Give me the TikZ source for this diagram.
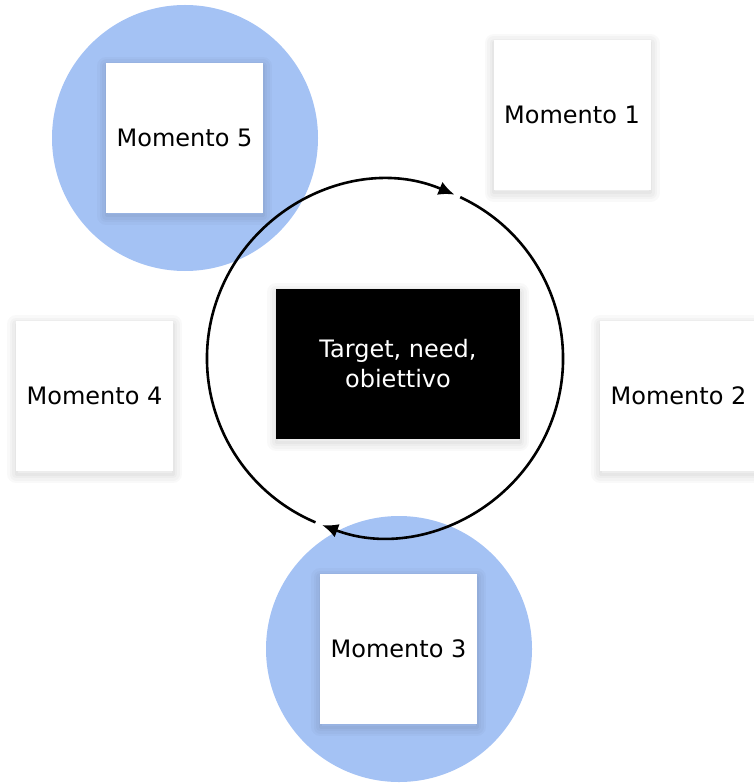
\documentclass[tikz,border=0pt]{standalone}
\usepackage{fontspec}
\setmainfont{DejaVu Sans}
\usetikzlibrary{arrows.meta}
\definecolor{blueblob}{HTML}{A4C2F4}
\begin{document}
\begin{tikzpicture}[x=1pt,y=1pt,
  shadowring/.style={preaction={draw=black, draw opacity=#1, fill opacity=0, line join=round, transform canvas={yshift=-3pt}}},
  softshadow/.style={
    preaction={draw=black, draw opacity=0.022, line width=18pt, line join=round, transform canvas={yshift=-3pt}},
    preaction={draw=black, draw opacity=0.022, line width=13pt, line join=round, transform canvas={yshift=-3pt}},
    preaction={draw=black, draw opacity=0.025, line width=8pt, line join=round, transform canvas={yshift=-3pt}},
    preaction={draw=black, draw opacity=0.03, line width=3pt, line join=round, transform canvas={yshift=-3pt}}},
  card/.style={fill=white, minimum width=157pt, minimum height=150pt, inner sep=0pt,
    softshadow, font=\fontsize{24}{30}\selectfont, align=center},
  blob/.style={circle, fill=blueblob, minimum size=266pt, inner sep=0pt},
  cycleline/.style={line width=2.6pt, -{Latex[length=16pt,width=14pt]}}]
\useasboundingbox (0,0) rectangle (753,-783);
\node[blob] (b5) at (185,-138) {};
\node[blob] (b3) at (399,-649) {};
\node[card] (m5) at (184.5,-138) {Momento 5};
\node[card] (m1) at (572,-115) {Momento 1};
\node[card] (m4) at (94.5,-396) {Momento 4};
\node[card] (m2) at (678.5,-396) {Momento 2};
\node[card] (m3) at (398.5,-649) {Momento 3};
\node[card, fill=black, text=white, minimum width=244pt] (t) at (398,-364) {Target, need,\\obiettivo};
\coordinate (c) at (385,-358.5);
\draw[cycleline] ([shift={(247:178)}]c) arc[start angle=247,end angle=67,radius=178];
\draw[cycleline] ([shift={(65:178)}]c) arc[start angle=65,end angle=-110.7,radius=178];
\end{tikzpicture}
\end{document}
